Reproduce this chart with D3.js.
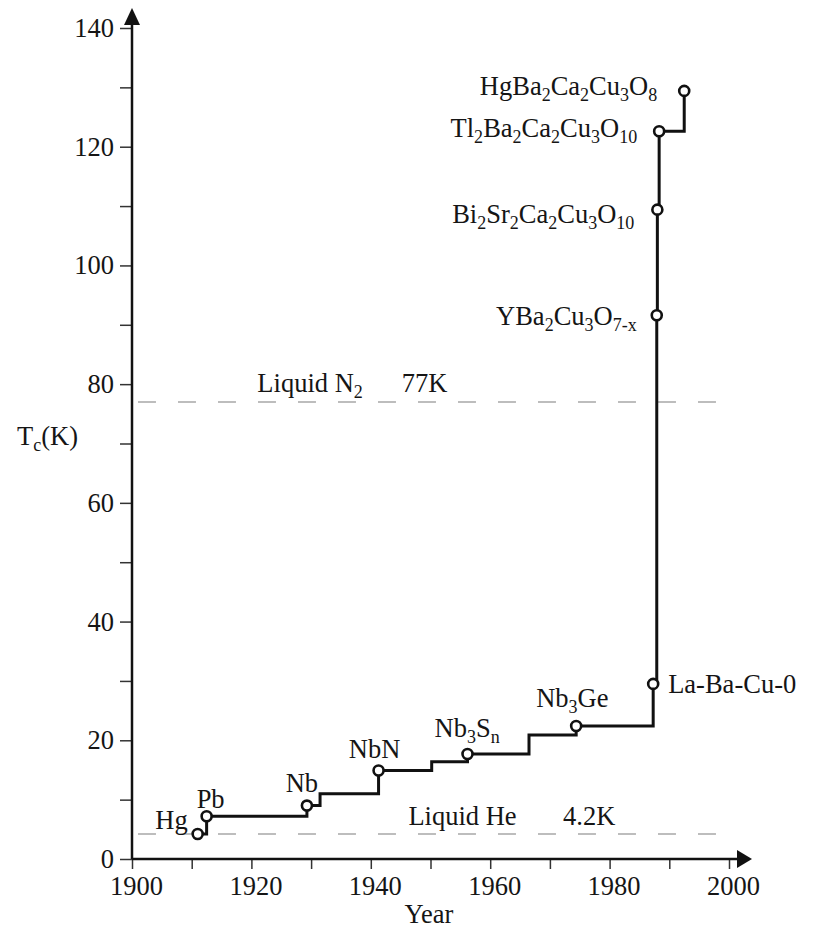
<!DOCTYPE html>
<html>
<head>
<meta charset="utf-8">
<script src="https://cdn.jsdelivr.net/npm/d3@7/dist/d3.min.js"></script>
<style>
  html, body { margin: 0; padding: 0; background: #fff; }
  svg { display: block; }
  text { font-family: "Liberation Serif", "Times New Roman", serif; fill: #151515; }
</style>
</head>
<body>
<svg id="chart" width="831" height="929"></svg>
<script>
// Record critical temperature of superconductors over time
const years    = [1911, 1912.5, 1929.3, 1931.5, 1941.3, 1950.2, 1956.2, 1966.5, 1974.4, 1987.3, 1987.9, 1988.0, 1988.3, 1992.5];
const tcValues = [4.2, 7.2, 9.0, 11.0, 14.9, 16.4, 17.7, 20.9, 22.4, 29.5, 91.6, 109.4, 122.6, 129.4];
const materials = ["Hg", "Pb", "Nb", "", "NbN", "", "Nb{3}S{n}", "", "Nb{3}Ge", "La-Ba-Cu-0",
  "YBa{2}Cu{3}O{7-x}", "Bi{2}Sr{2}Ca{2}Cu{3}O{10}", "Tl{2}Ba{2}Ca{2}Cu{3}O{10}", "HgBa{2}Ca{2}Cu{3}O{8}"];

// Reference temperatures of cryogenic liquids
const coolantNames = ["Liquid N{2}", "Liquid He"];
const coolantTemps = [77, 4.2];
const coolantTempLabels = ["77K", "4.2K"];

// Axis ticks
const xTicks = [1900, 1910, 1920, 1930, 1940, 1950, 1960, 1970, 1980, 1990, 2000];
const xTickLabels = ["1900", "", "1920", "", "1940", "", "1960", "", "1980", "", "2000"];
const yTicks = [0, 10, 20, 30, 40, 50, 60, 70, 80, 90, 100, 110, 120, 130, 140];
const yTickLabels = ["0", "", "20", "", "40", "", "60", "", "80", "", "100", "", "120", "", "140"];

// Label placement relative to each marker: [dx, dy, anchor]
const labelPlacement = {
  "Hg": [-10, -5, "end"],
  "Pb": [-10, -8, "start"],
  "Nb": [-5, -14, "middle"],
  "NbN": [-4, -13, "middle"],
  "Nb{3}S{n}": [-33, -17, "start"],
  "Nb{3}Ge": [-40, -19, "start"],
  "La-Ba-Cu-0": [15, 9, "start"],
  "YBa{2}Cu{3}O{7-x}": [-20, 10, "end"],
  "Bi{2}Sr{2}Ca{2}Cu{3}O{10}": [-23, 13, "end"],
  "Tl{2}Ba{2}Ca{2}Cu{3}O{10}": [-22, 6, "end"],
  "HgBa{2}Ca{2}Cu{3}O{8}": [-27, 4, "end"]
};

const FS = 26.5;
const svg = d3.select("#chart");
const x = d3.scaleLinear().domain([1900, 2000]).range([132, 729]);
const y = d3.scaleLinear().domain([0, 140]).range([859, 28]);

// Writes "A{2}B" style strings with subscripted runs
function richText(sel, str) {
  const parts = str.split(/(\{[^}]*\})/).filter(s => s.length);
  let shifted = false;
  parts.forEach(p => {
    const sub = p.startsWith("{");
    const t = sel.append("tspan").text(sub ? p.slice(1, -1) : p);
    if (sub) {
      t.attr("font-size", "0.68em");
      if (!shifted) { t.attr("dy", 6); shifted = true; }
    } else if (shifted) {
      t.attr("dy", -6); shifted = false;
    }
  });
}

// Coolant reference lines
const coolants = coolantTemps.map((t, i) => ({ t, name: coolantNames[i], label: coolantTempLabels[i] }));
svg.append("g").selectAll("line").data(coolants).join("line")
  .attr("x1", x(1901)).attr("x2", x(2001))
  .attr("y1", d => y(d.t)).attr("y2", d => y(d.t))
  .attr("stroke", "#a8a8a8").attr("stroke-width", 1.4)
  .attr("stroke-dasharray", "18 22");

const coolantTextPos = [[1921, 2, 1945.2, 2], [1946.3, 1.5, 1972.2, 1.5]];
coolants.forEach((d, i) => {
  const p = coolantTextPos[i];
  const t1 = svg.append("text").attr("x", x(p[0])).attr("y", y(d.t) - 8 - p[1])
    .attr("font-size", FS);
  richText(t1, d.name);
  svg.append("text").attr("x", x(p[2])).attr("y", y(d.t) - 8 - p[3])
    .attr("font-size", FS).text(d.label);
});

// Axes
const yAxis = d3.axisLeft(y).tickValues(yTicks)
  .tickFormat((d, i) => yTickLabels[i]).tickSize(12).tickSizeOuter(0).tickPadding(6);
const gy = svg.append("g").attr("transform", `translate(${x(1900)},0)`).call(yAxis);
gy.select(".domain").remove();
gy.selectAll(".tick line").attr("stroke", "#333").attr("stroke-width", 1.5);
gy.selectAll(".tick text").attr("font-size", FS).attr("font-family", "Liberation Serif").attr("fill", "#151515");

const xAxis = d3.axisBottom(x).tickValues(xTicks)
  .tickFormat((d, i) => xTickLabels[i]).tickSize(10).tickSizeOuter(0).tickPadding(7);
const gx = svg.append("g").attr("transform", `translate(0,${y(0)})`).call(xAxis);
gx.select(".domain").remove();
gx.selectAll(".tick line").attr("stroke", "#333").attr("stroke-width", 1.5);
gx.selectAll(".tick text").attr("font-size", FS).attr("font-family", "Liberation Serif")
  .attr("fill", "#151515").attr("dx", 4);

// Axis lines with arrowheads
svg.append("line").attr("x1", x(1900)).attr("x2", 740).attr("y1", y(0)).attr("y2", y(0))
  .attr("stroke", "#111").attr("stroke-width", 2.5);
svg.append("path").attr("d", `M752,${y(0)} L737,${y(0) - 9} L737,${y(0) + 9} Z`).attr("fill", "#111");
svg.append("line").attr("x1", x(1900)).attr("x2", x(1900)).attr("y1", y(0)).attr("y2", 20)
  .attr("stroke", "#111").attr("stroke-width", 2.5);
svg.append("path").attr("d", `M${x(1900)},8 L${x(1900) - 8},25 L${x(1900) + 8},25 Z`).attr("fill", "#111");

// Axis titles
const yt = svg.append("text").attr("x", 17).attr("y", 445).attr("font-size", FS);
richText(yt, "T{c}(K)");
svg.append("text").attr("x", 429).attr("y", 923).attr("text-anchor", "middle")
  .attr("font-size", FS).text("Year");

// Record Tc step line
const pts = years.map((yr, i) => ({ yr, tc: tcValues[i], name: materials[i] }));
const line = d3.line().x(d => x(d.yr)).y(d => y(d.tc)).curve(d3.curveStepAfter);
svg.append("path").datum(pts).attr("d", line)
  .attr("fill", "none").attr("stroke", "#111").attr("stroke-width", 3)
  .attr("stroke-linejoin", "miter");

const named = pts.filter(d => d.name);
svg.append("g").selectAll("circle").data(named).join("circle")
  .attr("cx", d => x(d.yr)).attr("cy", d => y(d.tc)).attr("r", 5)
  .attr("fill", "#fff").attr("stroke", "#111").attr("stroke-width", 2.6);

named.forEach(d => {
  const [dx, dy, anchor] = labelPlacement[d.name];
  const t = svg.append("text").attr("x", x(d.yr) + dx).attr("y", y(d.tc) + dy)
    .attr("text-anchor", anchor).attr("font-size", FS);
  richText(t, d.name);
});
</script>
</body>
</html>
